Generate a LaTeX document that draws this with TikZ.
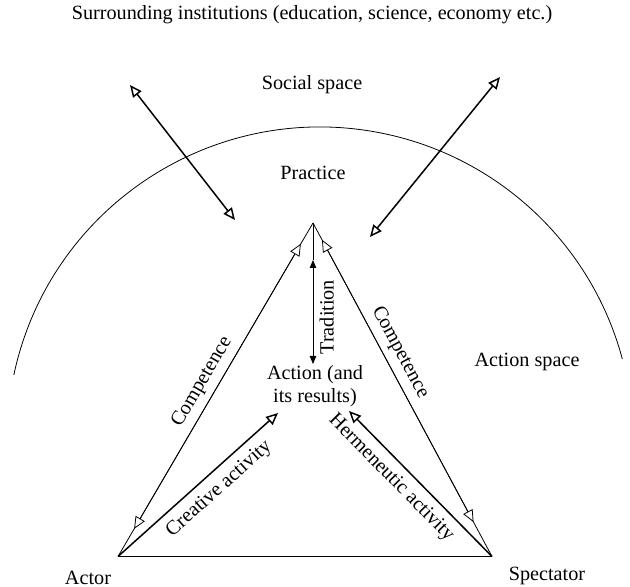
\documentclass[tikz,border=0pt]{standalone}
\usepackage{fontspec}
\setmainfont{Liberation Serif}
\usetikzlibrary{arrows.meta}
\pgfdeclarelayer{edgelayer}
\pgfdeclarelayer{nodelayer}
\pgfsetlayers{edgelayer,nodelayer,main}
\tikzstyle{point}=[coordinate]
\tikzstyle{word}=[font=\fontsize{11.5}{13}\selectfont, inner sep=1.5pt]
\tikzstyle{thinedge}=[draw=black, line width=0.45pt]
\tikzstyle{thickedge}=[draw=black, line width=0.85pt]
\tikzstyle{twohead}=[{Triangle[open, fill=white, length=2.4mm, width=2.1mm]}-{Triangle[open, fill=white, length=2.4mm, width=2.1mm]}]
\tikzstyle{onehead}=[-{Triangle[open, fill=white, length=2.4mm, width=2.1mm]}]
\tikzstyle{smallhead}=[{Triangle[length=1.6mm, width=1.3mm]}-{Triangle[length=1.6mm, width=1.3mm]}]

\begin{document}
\begin{tikzpicture}
				\useasboundingbox (0,0) rectangle (12.6,11.74);
				\begin{pgfonlayer}{nodelayer}
					\node [style=point] (1) at (6.26, 7.28) {};
					\node [style=point] (2) at (2.36, 0.61) {};
					\node [style=point] (3) at (9.84, 0.61) {};
					\node [style=point] (4) at (6.26, 4.46) {};
					\node [style=point] (5) at (6.26, 6.54) {};
					\node [style=point] (6) at (5.56, 3.48) {};
					\node [style=point] (7) at (6.98, 3.52) {};
					\node [style=point] (8) at (2.60, 10.04) {};
					\node [style=point] (9) at (4.70, 7.34) {};
					\node [style=point] (10) at (10.00, 10.20) {};
					\node [style=point] (11) at (7.40, 7.00) {};
					\node [style=word] (12) at (6.24, 11.44) {Surrounding institutions (education, science, economy etc.)};
					\node [style=word] (13) at (6.24, 10.04) {Social space};
					\node [style=word] (14) at (6.26, 8.28) {Practice};
					\node [style=word, align=center] (15) at (6.30, 4.02) {Action (and\\its results)};
					\node [style=word] (16) at (10.54, 4.50) {Action space};
					\node [style=word] (17) at (1.76, 0.18) {Actor};
					\node [style=word] (18) at (10.94, 0.22) {Spectator};
				\end{pgfonlayer}
				\begin{pgfonlayer}{edgelayer}
					\draw [style=thinedge] (6.40, 2.94) ++(168:6.26) arc [start angle=168, end angle=15, radius=6.26];
					\draw [style=thickedge] (2) to (3);
					\draw [style=thinedge] (2) to node [style=word, sloped, above=2pt, pos=0.5] {Competence} (1);
					\draw [style=thinedge, style=twohead, shorten <=0.64cm, shorten >=0.48cm] (2) to (1);
					\draw [style=thinedge] (1) to node [style=word, sloped, above=2pt, pos=0.41] {Competence} (3);
					\draw [style=thinedge, style=twohead, shorten <=0.38cm, shorten >=0.78cm] (1) to (3);
					\draw [style=thinedge] (1) to (5);
					\draw [style=thinedge, style=smallhead] (4) to node [style=word, sloped, below=2pt, pos=0.45] {Tradition} (5);
					\draw [style=thickedge, style=onehead] (2) to node [style=word, sloped, below=3pt, pos=0.56] {Creative activity} (6);
					\draw [style=thickedge, style=onehead] (3) to (7);
					\draw [draw=none] (7) to node [style=word, sloped, below=3pt, pos=0.38] {Hermeneutic activity} (3);
					\draw [style=thickedge, style=twohead] (8) to (9);
					\draw [style=thickedge, style=twohead] (10) to (11);
				\end{pgfonlayer}
			\end{tikzpicture}
\end{document}
